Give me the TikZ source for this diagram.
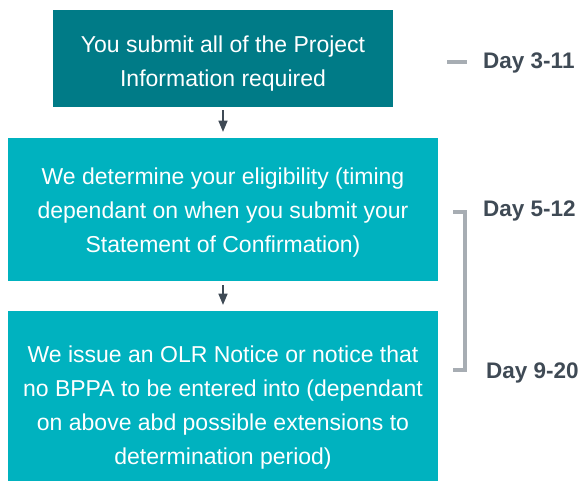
\documentclass[tikz,border=0pt]{standalone}
\usepackage{fontspec}
\setmainfont{Liberation Sans}
\usetikzlibrary{shapes.geometric, arrows}
\usetikzlibrary{calc, positioning}
\definecolor{darkteal}{HTML}{007B87}
\definecolor{lightteal}{HTML}{00B2BF}
\definecolor{daygray}{HTML}{A7ADB3}
\definecolor{daytext}{HTML}{3F4A55}
\newcommand{\droptext}[1]{\rule{0pt}{#1pt}}
\tikzstyle{stepbox} = [rectangle, text=white, align=center, inner sep=0pt, font=\fontsize{23}{34}\selectfont]
\tikzstyle{daylabel} = [anchor=west, inner sep=0pt, text=daytext, font=\fontsize{22.5}{24}\selectfont\bfseries]
\tikzstyle{arrow} = [line width=1.6pt,->,>=triangle 45, draw=daytext]
\tikzstyle{bracket} = [line width=4pt, draw=daygray]

\begin{document}
\begin{tikzpicture}[x = 1pt, y = -1pt]
	\useasboundingbox (0,0) rectangle (585,482);
	\node[stepbox, fill=darkteal, minimum width=340pt, minimum height=97pt] (submit) at (223,58.5) {\droptext{27}You submit all of the Project\\Information required};
	\node[stepbox, fill=lightteal, minimum width=430pt, minimum height=143pt] (determine) at (223,209.5) {\droptext{23}We determine your eligibility (timing\\dependant on when you submit your\\Statement of Confirmation)};
	\node[stepbox, fill=lightteal, minimum width=430pt, minimum height=170pt] (issue) at (223,396) {\droptext{39}We issue an OLR Notice or notice that\\no BPPA to be entered into (dependant\\on above abd possible extensions to\\determination period)};

	% Arrows
	\draw[arrow] ([yshift=-3pt]submit.south) -- ([yshift=6pt]determine.north);
	\draw[arrow] ([yshift=-4pt]determine.south) -- ([yshift=6pt]issue.north);

	% Days
	\node[daylabel] (dayA) at (483,63) {Day 3-11};
	\node[daylabel] (dayB) at (483,211) {Day 5-12};
	\node[daylabel] (dayC) at (486,373) {Day 9-20};
	\draw[bracket] ([xshift=-36pt,yshift=1pt]dayA.west) -- ([xshift=-16pt,yshift=1pt]dayA.west);
	\coordinate (btop) at (453,212);
	\coordinate (bbot) at (453,370);
	\draw[bracket] (btop) -- ++(12,0) |- (bbot);
\end{tikzpicture}
\end{document}
